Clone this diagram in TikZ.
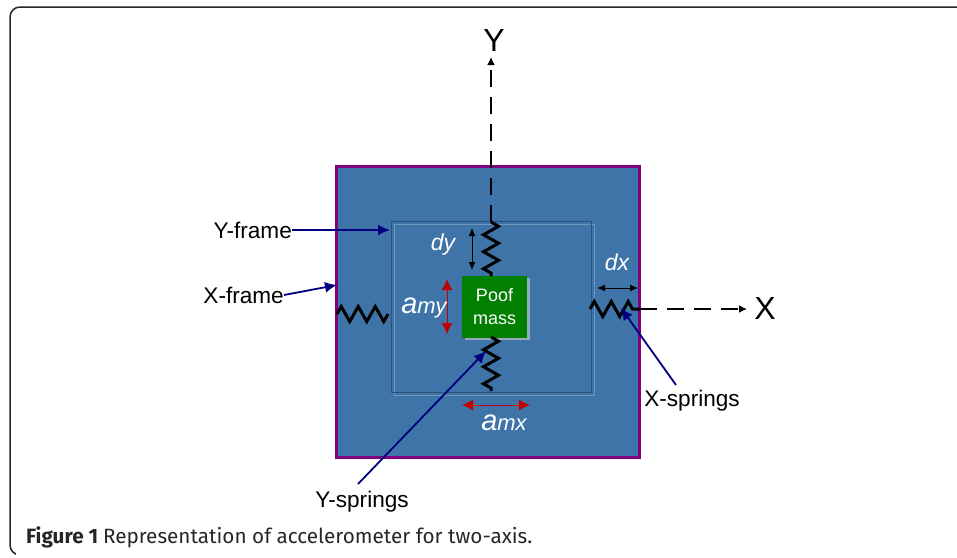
\documentclass[tikz,border=0pt]{standalone}
\usepackage{fontspec}
\setmainfont{Liberation Sans}
\newfontfamily\capfont{Fira Sans}
\usetikzlibrary{decorations.pathmorphing,arrows.meta}
\definecolor{plate}{HTML}{3E74A8}
\definecolor{rim}{HTML}{800080}
\definecolor{massgreen}{HTML}{007F00}
\definecolor{masshade}{HTML}{9AA9BD}
\definecolor{callblue}{HTML}{000080}
\definecolor{accred}{HTML}{C00000}
\begin{document}
\begin{tikzpicture}[x=1pt,y=-1pt]
	\tikzstyle{lab}=[font=\fontsize{22.6}{24}\selectfont, inner sep=0pt]
	\tikzstyle{wlab}=[text=white, font=\fontsize{23}{25}\selectfont\itshape, inner sep=0pt]
	\tikzstyle{box}=[rectangle, inner sep=0pt, outer sep=0pt, anchor=north west]
	\tikzstyle{spring}=[line width=3pt, decorate, decoration={zigzag, segment length=17pt, amplitude=7.5pt}]
	\tikzstyle{axis}=[line width=2pt, dash pattern=on 17pt off 10pt, -{Latex[length=8pt,width=8pt]}]
	\tikzstyle{call}=[callblue, line width=1.8pt, -{Latex[length=12pt,width=11pt]}]
	\tikzstyle{gap}=[black, line width=1pt, {Latex[length=8pt,width=7pt]}-{Latex[length=8pt,width=7pt]}]
	\tikzstyle{acc}=[accred, line width=1pt, {Latex[length=11pt,width=11pt]}-{Latex[length=11pt,width=11pt]}]

	\useasboundingbox (0,0) rectangle (957,557);

	% card outline
	\draw[black!85, line width=1.5pt, rounded corners=10pt] (957,7) -- (10,7) -- (10,555) -- (22,555);
	\fill[white] (16,553) rectangle (30,557);

	% frames and mass
	\node[box, fill=plate, draw=rim, line width=3pt, minimum width=303pt, minimum height=291pt] (xframe) at (336,166) {};
	\node[box, draw=white!25!plate, line width=.8pt, minimum width=200pt, minimum height=171pt] (yframeb) at (394,224) {};
	\node[box, draw=black!30!plate, line width=.8pt, minimum width=200pt, minimum height=171pt] (yframe) at (391,221) {};
	\node[box, fill=masshade, minimum width=65pt, minimum height=62pt] (shade) at (465,278) {};
	\node[box, fill=massgreen, minimum width=65pt, minimum height=62pt, text=white, align=center, font=\fontsize{18}{23}\selectfont] (mass) at (462,276) {Poof\\mass};

	% axis ends
	\coordinate (yup) at (491,57);
	\coordinate (xup) at (747,309);
	\coordinate (s1a) at (491,222);
	\coordinate (s1b) at (491,276);
	\coordinate (s2a) at (491,337);
	\coordinate (s2b) at (491,391);
	\coordinate (s3a) at (337,314);
	\coordinate (s3b) at (388,314);
	\coordinate (s4a) at (590,309);
	\coordinate (s4b) at (640,309);

	\foreach \from/\to in {s1a/s1b,s2a/s2b,s3a/s3b,s4a/s4b}
	\draw[spring] (\from) -- (\to);

	\draw[axis] (s1a) -- (yup);
	\draw[axis] (s4b) -- (xup);

	% labels
	\node[font=\fontsize{32}{34}\selectfont, inner sep=0pt] (ylab) at (494,40) {Y};
	\node[font=\fontsize{32}{34}\selectfont, inner sep=0pt] (xlab) at (765,308) {X};
	\node[lab, anchor=east] (ytext) at (292,230) {Y-frame};
	\node[lab, anchor=east] (xtext) at (284,295) {X-frame};
	\node[lab] (xsp) at (692,401) {X-springs};
	\node[lab] (ysp) at (362,502) {Y-springs};
	\node[wlab] (dy) at (443,245) {dy};
	\node[wlab] (dx) at (617,262) {dx};
	\node[wlab] (amy) at (424,308) {{\fontsize{29}{29}\selectfont a}\fontsize{22}{24}\selectfont my};
	\node[wlab] (amx) at (504,423) {{\fontsize{29}{29}\selectfont a}\fontsize{22}{24}\selectfont mx};

	% callouts
	\coordinate (c1) at (390,230);
	\coordinate (c2) at (337,285);
	\coordinate (c3) at (621,308);
	\coordinate (c4) at (486,351);
	\coordinate (c3s) at (676,385);
	\coordinate (c4s) at (358,484);
	\draw[call] (ytext.east) -- (c1);
	\draw[call] (xtext.east) -- (c2);
	\foreach \from/\to in {c3s/c3,c4s/c4}
	\draw[call] (\from) -- (\to);

	% travel marks
	\coordinate (d1) at (472,228);
	\coordinate (d2) at (472,270);
	\coordinate (d3) at (597,288);
	\coordinate (d4) at (638,288);
	\coordinate (a1) at (447,279);
	\coordinate (a2) at (447,334);
	\coordinate (a3) at (462,405);
	\coordinate (a4) at (530,405);
	\foreach \from/\to in {d1/d2,d3/d4}
	\draw[gap] (\from) -- (\to);
	\foreach \from/\to in {a1/a2,a3/a4}
	\draw[acc] (\from) -- (\to);

	% caption
	\node[anchor=west, inner sep=0pt, text=black!85, font=\capfont\fontsize{20.7}{22}\selectfont\bfseries] (cap) at (26,537) {Figure 1 \mdseries Representation of accelerometer for two-axis.};
\end{tikzpicture}
\end{document}
